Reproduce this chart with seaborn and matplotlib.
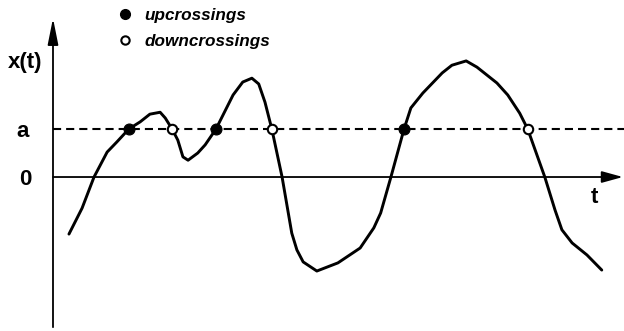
import matplotlib
matplotlib.use("Agg")
import matplotlib.pyplot as plt
from matplotlib.lines import Line2D
import pandas as pd
import seaborn as sns

# Sample path x(t), read point by point
t_vals = [0.28, 0.51, 0.72, 0.95, 1.12, 1.33, 1.53, 1.70, 1.88, 1.97, 2.09, 2.19,
          2.28, 2.37, 2.54, 2.67, 2.86, 3.16, 3.33, 3.49, 3.61, 3.72, 3.84, 4.02,
          4.19, 4.28, 4.39, 4.63, 5.00, 5.39, 5.63, 5.75, 5.93, 6.16, 6.28, 6.49,
          6.83, 7.00, 7.25, 7.44, 7.79, 7.98, 8.19, 8.33, 8.63, 8.81, 8.93, 9.11,
          9.37, 9.63]
x_vals = [-1.19, -0.65, 0.00, 0.52, 0.73, 1.00, 1.15, 1.31, 1.35, 1.23, 1.00, 0.77,
          0.42, 0.35, 0.50, 0.67, 1.00, 1.71, 1.98, 2.06, 1.94, 1.56, 1.00, 0.00,
          -1.17, -1.52, -1.77, -1.96, -1.79, -1.48, -1.06, -0.75, 0.00, 1.00, 1.44, 1.75,
          2.17, 2.33, 2.42, 2.29, 1.96, 1.71, 1.33, 1.00, 0.00, -0.69, -1.10, -1.375,
          -1.625, -1.94]

level_a = 1.0
up_t = [1.33, 2.86, 6.16]
down_t = [2.09, 3.84, 8.33]

legend_labels = ["upcrossings", "downcrossings"]

path = pd.DataFrame({"t": t_vals, "x": x_vals})
crossings = pd.DataFrame({
    "t": up_t + down_t,
    "x": [level_a] * (len(up_t) + len(down_t)),
    "kind": ["up"] * len(up_t) + ["down"] * len(down_t),
})

sns.set_theme(style="white")
plt.rcParams["font.family"] = ["Liberation Sans", "DejaVu Sans"]

fig = plt.figure(figsize=(6.24, 3.31), dpi=100)
ax = fig.add_axes([0, 0, 1, 1])
ax.set_xlim(-0.93, 10.02)
ax.set_ylim(-3.21, 3.69)
ax.axis("off")

# time axis and x axis with arrow heads
ax.annotate("", xy=(10.0, 0), xytext=(0, 0),
            arrowprops=dict(arrowstyle="-|>,head_length=0.8,head_width=0.22",
                            mutation_scale=16, lw=1.3, color="black",
                            shrinkA=0, shrinkB=0))
ax.annotate("", xy=(0, 3.31), xytext=(0, -3.13),
            arrowprops=dict(arrowstyle="-|>,head_length=1.0,head_width=0.2",
                            mutation_scale=16, lw=1.3, color="black",
                            shrinkA=0, shrinkB=0))

# crossing level a
ax.plot([0, 10.02], [level_a, level_a], color="black", lw=1.5,
        linestyle=(0, (3.9, 2.4)), zorder=2)

sns.lineplot(data=path, x="t", y="x", sort=False, estimator=None,
             color="black", lw=2.1, ax=ax, zorder=3)

up = crossings[crossings["kind"] == "up"]
down = crossings[crossings["kind"] == "down"]
sns.scatterplot(data=up, x="t", y="x", s=62, color="black", edgecolor="black",
                linewidth=0.8, ax=ax, zorder=4)
sns.scatterplot(data=down, x="t", y="x", s=46, color="white", edgecolor="black",
                linewidth=1.5, ax=ax, zorder=4)
ax.set_xlabel("")
ax.set_ylabel("")

# axis labels
bold = dict(fontsize=16, fontweight="bold", color="black")
ax.text(-0.79, 2.27, "x(t)", ha="left", va="baseline", **bold)
ax.text(-0.54, level_a - 0.167, "a", ha="center", va="baseline", **bold)
ax.text(-0.49, -0.167, "0", ha="center", va="baseline", **bold)
ax.text(9.51, -0.54, "t", ha="center", va="baseline", **bold)

handles = [
    Line2D([], [], linestyle="none", marker="o", markersize=7,
           markerfacecolor="black", markeredgecolor="black"),
    Line2D([], [], linestyle="none", marker="o", markersize=6,
           markerfacecolor="white", markeredgecolor="black", markeredgewidth=1.5),
]
ax.legend(handles, legend_labels, loc="upper left",
          bbox_to_anchor=(116 / 624, 1 - 8 / 331), frameon=False,
          borderpad=0, borderaxespad=0, handlelength=1.0, handletextpad=0.64,
          labelspacing=0.62, labelcolor="black",
          prop=dict(family="Liberation Sans", weight="bold", style="italic", size=12.3))

fig.savefig("out.png", dpi=100)
